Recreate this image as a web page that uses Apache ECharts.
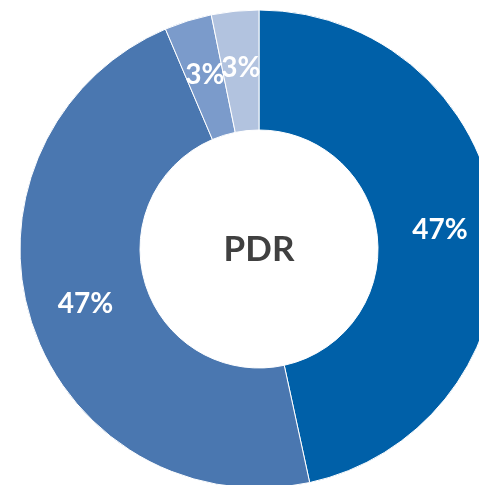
<!DOCTYPE html>
<html>
<head>
<meta charset="utf-8">
<title>PDR</title>
<script src="https://cdn.jsdelivr.net/npm/echarts@6/dist/echarts.min.js"></script>
<style>
  html, body { margin: 0; padding: 0; background: #fff; }
  #chart { width: 479px; height: 485px; }
</style>
</head>
<body>
<div id="chart"></div>
<script>
// slices, clockwise from 12 o'clock
const categories = ['A', 'B', 'C', 'D']
const values = [46.6, 47.0, 3.2, 3.2]
const colors = ['#0060a8', '#4a77b0', '#7b9bcb', '#b2c3df']
const centerText = 'PDR'

const myChart = echarts.init(document.getElementById('chart'))

myChart.setOption({
  animation: false,
  color: colors,
  graphic: [
    {
      type: 'text',
      x: 259,
      y: 250,
      style: {
        text: centerText,
        align: 'center',
        verticalAlign: 'middle',
        fill: '#404040',
        font: 'bold 35px Lato'
      }
    }
  ],
  series: [
    {
      type: 'pie',
      center: [259, 249],
      radius: [119, 239],
      startAngle: 90,
      clockwise: true,
      silent: true,
      avoidLabelOverlap: false,
      labelLayout: { hideOverlap: false },
      itemStyle: {
        borderColor: '#ffffff',
        borderWidth: 1
      },
      label: {
        show: true,
        position: 'inside',
        color: '#ffffff',
        fontFamily: 'Lato',
        fontWeight: 'bold',
        fontSize: 28,
        formatter: (p) => Math.round(p.percent) + '%'
      },
      labelLine: { show: false },
      data: categories.map((name, i) => ({ name: name, value: values[i] }))
    }
  ]
})
</script>
</body>
</html>
